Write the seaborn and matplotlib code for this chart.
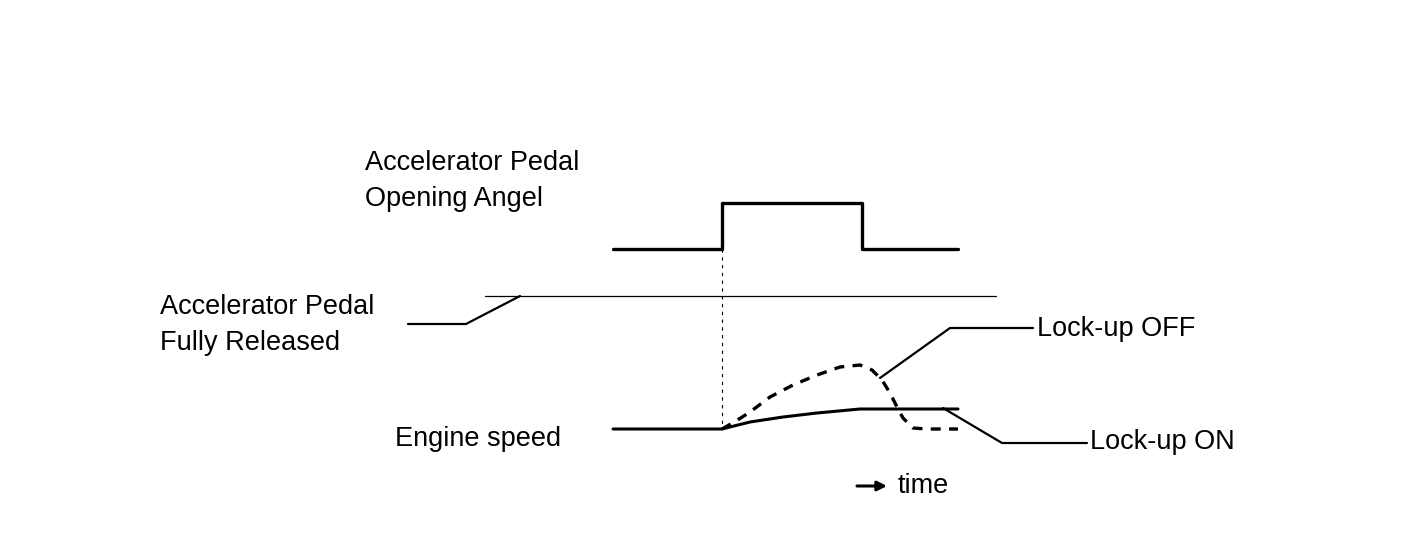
import pandas as pd
import seaborn as sns
import matplotlib.pyplot as plt

# diagram traces, in pixel units of the 1408x540 canvas (y grows downward)
pedal_x = [613, 722, 722, 862, 862, 958]
pedal_y = [249, 249, 203, 203, 249, 249]

released_x = [485, 996]
released_y = [296, 296]

released_leader_x = [408, 466, 520]
released_leader_y = [324, 324, 296]

marker_x = [722, 722]
marker_y = [249, 428]

lockup_on_x = [613, 722, 750, 783, 817, 860, 958]
lockup_on_y = [429, 429, 422, 417, 413, 409, 409]

lockup_off_x = [722, 736, 750, 770, 793, 817, 840, 860, 872, 882, 890, 897, 903, 913, 927, 958]
lockup_off_y = [429, 421, 412, 397, 385, 375, 367, 365, 370, 380, 393, 407, 418, 428, 429, 429]

off_leader_x = [880, 950, 1033]
off_leader_y = [378, 328, 328]

on_leader_x = [943, 1002, 1087]
on_leader_y = [408, 443, 443]

labels = ["Accelerator Pedal\nOpening Angel", "Accelerator Pedal\nFully Released",
          "Engine speed", "Lock-up OFF", "Lock-up ON", "time"]


def trace(ax, xs, ys, lw, ls="-"):
	df = pd.DataFrame({"x": xs, "y": ys})
	sns.lineplot(data=df, x="x", y="y", ax=ax, sort=False, estimator=None,
	             color="black", linewidth=lw, linestyle=ls)


def main():
	sns.set_theme(style="white")
	plt.rcParams["font.family"] = ["Liberation Sans", "DejaVu Sans"]

	fig = plt.figure(figsize=(14.08, 5.4), dpi=100)
	ax = fig.add_axes([0, 0, 1, 1])

	trace(ax, pedal_x, pedal_y, 2.4)
	trace(ax, released_x, released_y, 0.9)
	trace(ax, released_leader_x, released_leader_y, 1.6)
	trace(ax, marker_x, marker_y, 0.8, (0, (3, 4)))
	trace(ax, lockup_on_x, lockup_on_y, 2.2)
	trace(ax, lockup_off_x, lockup_off_y, 2.4, (0, (3, 2.5)))
	trace(ax, off_leader_x, off_leader_y, 1.6)
	trace(ax, on_leader_x, on_leader_y, 1.6)

	fs = 19.5
	txt = dict(fontsize=fs, va="center", ha="left", color="black")
	ax.text(365, 181, labels[0], linespacing=1.45, **txt)
	ax.text(160, 325, labels[1], linespacing=1.45, **txt)
	ax.text(395, 439, labels[2], **txt)
	ax.text(1037, 329, labels[3], **txt)
	ax.text(1090, 442, labels[4], **txt)
	ax.text(898, 486, labels[5], **txt)
	ax.annotate("", xy=(887, 486), xytext=(857, 486),
	            arrowprops=dict(arrowstyle="-|>", color="black", lw=2.2,
	                            mutation_scale=14, shrinkA=0, shrinkB=0))

	ax.set_xlim(0, 1408)
	ax.set_ylim(540, 0)
	ax.set_axis_off()
	fig.savefig("out.png", dpi=100, facecolor="white")


if __name__ == "__main__":
	main()
